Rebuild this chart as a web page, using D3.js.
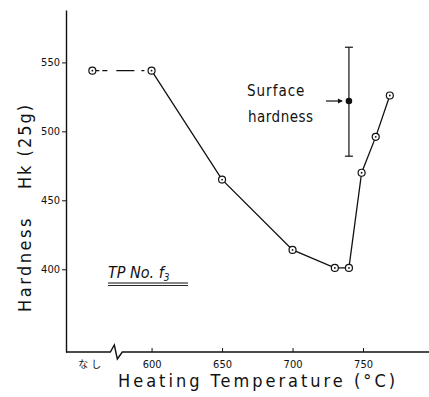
<!DOCTYPE html>
<html>
<head>
<meta charset="utf-8">
<script src="https://cdn.jsdelivr.net/npm/d3@7"></script>
<style>
  body { margin: 0; background: #fff; }
  svg { display: block; }
</style>
</head>
<body>
<div id="chart"></div>
<script>
// heating temperature (°C) and Knoop hardness Hk(25g)
const temps = [600, 650, 700, 730, 740, 749, 759, 769];
const hardness = [544, 465, 414, 401, 401, 470, 496, 526];
// untreated ("なし") sample, drawn left of the axis break
const untreatedPos = 558;
const untreatedHardness = 544;
// surface hardness (mean with range)
const surfaceTemp = [740];
const surfaceMean = [522];
const surfaceLow = [482];
const surfaceHigh = [561];

const xTicks = [600, 650, 700, 750];
const yTicks = [400, 450, 500, 550];

const width = 429, height = 397;
const margin = { top: 10, right: 0, bottom: 45, left: 66 };

const svg = d3.select("#chart").append("svg")
  .attr("width", width)
  .attr("height", height);

const x = d3.scaleLinear()
  .domain([539.3, 796.8])
  .range([margin.left, width - margin.right]);

const y = d3.scaleLinear()
  .domain([340, 588])
  .range([height - margin.bottom, margin.top]);

const ink = "#111";
const x0 = x.range()[0], yBase = y.range()[0];

// y axis, ticks outward
const yAxis = svg.append("g")
  .attr("transform", "translate(" + x0 + ",0)")
  .call(d3.axisLeft(y).tickValues(yTicks).tickSize(4).tickPadding(2).tickSizeOuter(0));
yAxis.select(".domain").attr("stroke", ink).attr("stroke-width", 1.4);
yAxis.selectAll("line").attr("stroke", ink);
yAxis.selectAll("text")
  .style("font-family", "'Liberation Sans Narrow', 'DejaVu Sans Condensed', sans-serif")
  .style("font-size", "11px").attr("fill", ink);

// x axis, ticks inward, with break
const xAxis = svg.append("g")
  .attr("transform", "translate(0," + yBase + ")")
  .call(d3.axisBottom(x).tickValues(xTicks).tickSize(-4).tickPadding(8).tickSizeOuter(0));
xAxis.select(".domain").remove();
xAxis.selectAll("line").attr("stroke", ink);
xAxis.selectAll("text")
  .style("font-family", "'Liberation Sans Narrow', 'DejaVu Sans Condensed', sans-serif")
  .style("font-size", "11px").attr("fill", ink);

const bx = x(575);
svg.append("path")
  .attr("d", "M" + x0 + "," + yBase + "H" + (bx - 6) +
    "L" + (bx - 2) + "," + (yBase - 7) +
    "L" + (bx + 1) + "," + (yBase + 7) +
    "L" + (bx + 6) + "," + yBase + "H" + x.range()[1])
  .attr("fill", "none").attr("stroke", ink).attr("stroke-width", 1.4);

svg.append("text")
  .attr("x", x(untreatedPos) - 1).attr("y", yBase + 16)
  .attr("text-anchor", "middle")
  .style("font-family", "'Noto Sans CJK JP', sans-serif")
  .style("font-size", "10px").style("letter-spacing", "3px").attr("fill", ink)
  .text("なし");

// dashed link from untreated to 600
svg.append("line")
  .attr("x1", x(untreatedPos)).attr("y1", y(untreatedHardness))
  .attr("x2", x(temps[0])).attr("y2", y(hardness[0]))
  .attr("stroke", ink).attr("stroke-width", 1.2)
  .attr("stroke-dasharray", "7,3,5,9,18");

// main curve
const pts = temps.map((t, i) => [t, hardness[i]]);
svg.append("path")
  .datum(pts)
  .attr("fill", "none")
  .attr("stroke", ink)
  .attr("stroke-width", 1.3)
  .attr("d", d3.line().x(d => x(d[0])).y(d => y(d[1])));

// open markers with centre dot
const allPts = [[untreatedPos, untreatedHardness]].concat(pts);
const mk = svg.append("g").selectAll("g").data(allPts).enter().append("g")
  .attr("transform", d => "translate(" + x(d[0]) + "," + y(d[1]) + ")");
mk.append("circle").attr("r", 3.5).attr("fill", "#fff").attr("stroke", ink).attr("stroke-width", 1.2);
mk.append("circle").attr("r", 0.9).attr("fill", ink);

// surface hardness error bar
surfaceTemp.forEach((t, i) => {
  const cx = x(t);
  svg.append("line").attr("x1", cx).attr("x2", cx)
    .attr("y1", y(surfaceHigh[i])).attr("y2", y(surfaceLow[i]))
    .attr("stroke", ink).attr("stroke-width", 1.2);
  [surfaceHigh[i], surfaceLow[i]].forEach(v => {
    svg.append("line").attr("x1", cx - 4).attr("x2", cx + 4)
      .attr("y1", y(v)).attr("y2", y(v))
      .attr("stroke", ink).attr("stroke-width", 1.2);
  });
  svg.append("circle").attr("cx", cx).attr("cy", y(surfaceMean[i])).attr("r", 3.3).attr("fill", ink);
  // arrow
  const ay = y(surfaceMean[i]);
  svg.append("line").attr("x1", cx - 23).attr("x2", cx - 7).attr("y1", ay).attr("y2", ay)
    .attr("stroke", ink).attr("stroke-width", 1.2);
  svg.append("path")
    .attr("d", "M" + (cx - 6) + "," + ay + "l-5,-2.5v5z").attr("fill", ink);
});

const hand = "'DejaVu Sans Condensed', 'DejaVu Sans', sans-serif";

svg.append("text")
  .attr("x", 247).attr("y", 96)
  .style("font-family", hand).style("font-size", "15px").style("letter-spacing", "1px").attr("fill", ink)
  .text("Surface");
svg.append("text")
  .attr("x", 248).attr("y", 122)
  .style("font-family", hand).style("font-size", "15px").style("letter-spacing", "0.5px").attr("fill", ink)
  .text("hardness");

// sample label
const tp = svg.append("text")
  .attr("x", 108).attr("y", 278)
  .style("font-family", hand).style("font-size", "16px").style("font-style", "italic")
  .attr("fill", ink);
tp.append("tspan").text("TP No. f");
tp.append("tspan").attr("dy", 3).style("font-size", "10px").text("3");
svg.append("line").attr("x1", 108).attr("x2", 188).attr("y1", 283).attr("y2", 283)
  .attr("stroke", ink).attr("stroke-width", 1.2);
svg.append("line").attr("x1", 108).attr("x2", 188).attr("y1", 285.5).attr("y2", 285.5)
  .attr("stroke", ink).attr("stroke-width", 0.9);

// axis titles
svg.append("text")
  .attr("transform", "translate(31,264) rotate(-90)")
  .attr("text-anchor", "middle")
  .style("font-family", hand).style("font-size", "18px").style("letter-spacing", "2.5px").attr("fill", ink)
  .text("Hardness");
svg.append("text")
  .attr("transform", "translate(31,146) rotate(-90)")
  .attr("text-anchor", "middle")
  .style("font-family", hand).style("font-size", "18px").style("letter-spacing", "2px").attr("fill", ink)
  .text("Hk (25g)");

svg.append("text")
  .attr("x", 258).attr("y", 387)
  .attr("text-anchor", "middle")
  .style("font-family", hand).style("font-size", "18px").style("letter-spacing", "3px").attr("fill", ink)
  .text("Heating Temperature (°C)");
</script>
</body>
</html>
